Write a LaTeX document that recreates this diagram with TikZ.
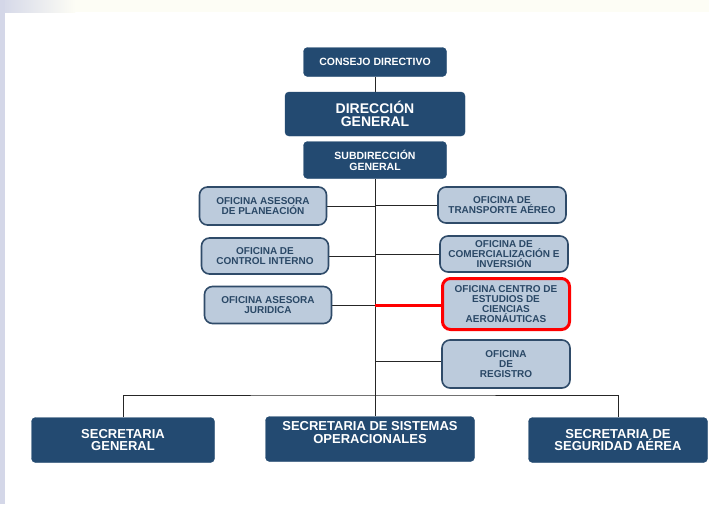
\documentclass[tikz,border=0pt]{standalone}
\usepackage{fontspec}
\setmainfont{Liberation Sans}
\usepackage{tikz}
\usetikzlibrary{calc,backgrounds}
\definecolor{navy}{RGB}{35,74,113}
\definecolor{pale}{RGB}{188,203,220}
\definecolor{edge}{RGB}{47,75,105}
\definecolor{ink}{RGB}{42,72,102}
\definecolor{lav}{RGB}{212,215,232}
\definecolor{cream}{RGB}{253,253,245}
\tikzset{
  dirbox/.style={draw=navy, fill=navy, rounded corners=4pt, text=white, font=\bfseries, align=center, inner sep=0pt},
  ofibox/.style={draw=edge, fill=pale, line width=1.6pt, rounded corners=8pt, text=ink, font=\bfseries\fontsize{10}{10}\selectfont, align=center, inner sep=0pt, minimum width=127pt, minimum height=36pt},
  redbox/.style={ofibox, draw=red, line width=3pt},
  wire/.style={draw=black!85, line width=0.8pt}
}

\begin{document}
\begin{tikzpicture}[x=1pt,y=-1pt]
	%the page
	\begin{scope}[on background layer]
	    \useasboundingbox (0,0) rectangle (709,504);
	    \fill[white] (0,0) rectangle (709,504);
	    \fill[cream] (0,0) rectangle (709,12);
	    \shade[left color=lav, right color=cream] (0,0) rectangle (75,12);
	    \fill[lav] (0,0) rectangle (5,504);
	\end{scope}
	%direction
	    \node[dirbox, minimum width=143pt, minimum height=29pt, font=\bfseries\fontsize{10.5}{12}\selectfont] (cons) at (375,62) {CONSEJO DIRECTIVO};
	    \node[dirbox, minimum width=180pt, minimum height=44pt, font=\bfseries\fontsize{14}{13.5}\selectfont] (dir) at (375,114) {DIRECCIÓN\\GENERAL};
	    \node[dirbox, minimum width=143pt, minimum height=37pt, font=\bfseries\fontsize{10.5}{11}\selectfont] (sub) at (375,160) {SUBDIRECCIÓN\\GENERAL};
	%offices
	    \node[ofibox, minimum height=38pt] (pla) at (263,206) {OFICINA ASESORA\\DE PLANEACIÓN};
	    \node[ofibox] (ctl) at (265,256) {OFICINA DE\\CONTROL INTERNO};
	    \node[ofibox, minimum height=37pt] (jur) at (268,305) {OFICINA ASESORA\\JURIDICA};
	    \node[ofibox, minimum width=128pt] (tra) at (502,205) {OFICINA DE\\TRANSPORTE AÉREO};
	    \node[ofibox, minimum width=128pt] (com) at (504,254) {OFICINA DE\\COMERCIALIZACIÓN E\\INVERSIÓN};
	    \node[redbox, minimum width=127pt, minimum height=51pt] (cea) at (506,304) {OFICINA CENTRO DE\\ESTUDIOS DE\\CIENCIAS\\AERONÁUTICAS};
	    \node[ofibox, minimum width=128pt, minimum height=48pt] (reg) at (506,364) {OFICINA\\DE\\REGISTRO};
	%secretaries
	    \node[dirbox, minimum width=183pt, minimum height=45pt, font=\bfseries\fontsize{13}{12.5}\selectfont] (sgen) at (123,440) {SECRETARIA\\GENERAL};
	    \node[dirbox, minimum width=209pt, minimum height=45pt, font=\bfseries\fontsize{13}{12.5}\selectfont] (ssop) at (370,439) {SECRETARIA DE SISTEMAS\\OPERACIONALES\\[1pt]};
	    \node[dirbox, minimum width=179pt, minimum height=45pt, font=\bfseries\fontsize{13}{12.5}\selectfont] (ssae) at (618,440) {SECRETARIA DE\\SEGURIDAD AÉREA};
	%the wires
	\begin{scope}[on background layer]
	    \draw[wire] (cons) -- (dir);
	    \draw[wire] (sub.south) -- (ssop.north -| sub);
	    \draw[wire] (pla) -- (pla -| sub);
	    \draw[wire] (ctl) -- (ctl -| sub);
	    \draw[wire] (jur) -- (jur -| sub);
	    \draw[wire] (tra) -- (tra -| sub);
	    \draw[wire] (com) -- (com -| sub);
	    \draw[wire] (reg.west |- 0,361) -- (sub |- 0,361);
	    \coordinate (bus) at (375,395);
	    \draw[wire] (sgen.north) |- (bus) -| (ssae.north);
	\end{scope}
	    \draw[red, line width=3pt] (jur -| sub) -- (cea.west |- jur);
\end{tikzpicture}
\end{document}
